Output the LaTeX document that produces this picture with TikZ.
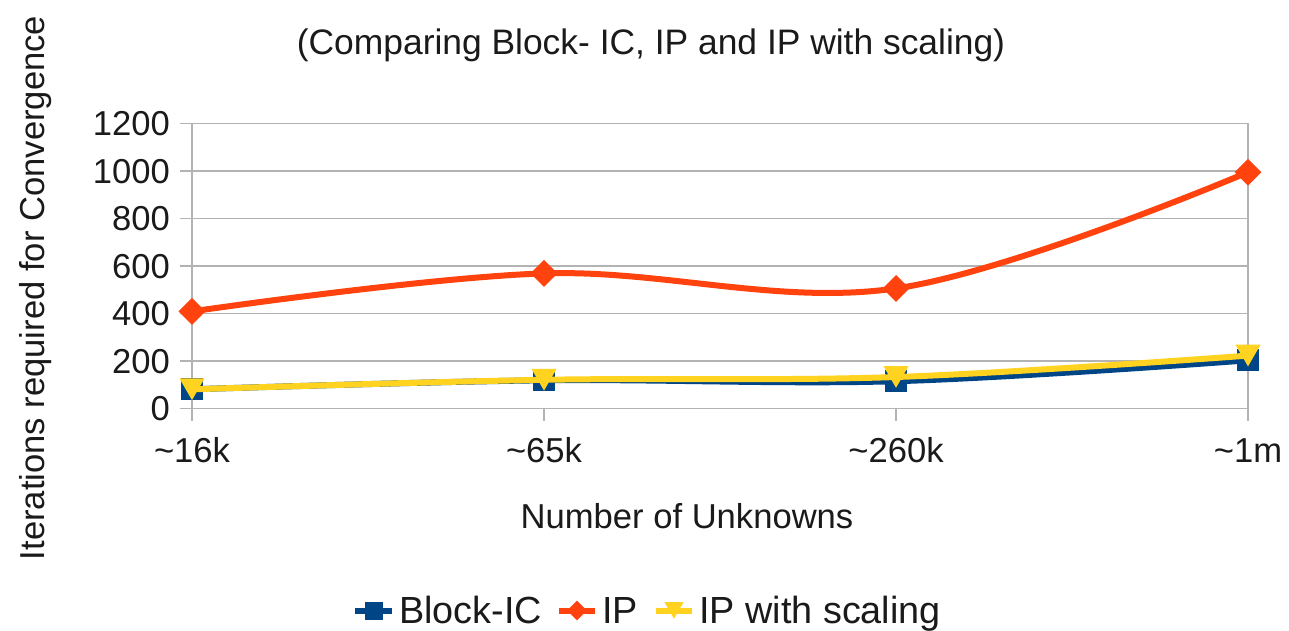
\documentclass[tikz,border=0pt]{standalone}
\usepackage{fontspec}
\setmainfont{Liberation Sans}
\usetikzlibrary{shapes.geometric}
\definecolor{cblue}{HTML}{004586}
\definecolor{corange}{HTML}{FF420E}
\definecolor{cyellow}{HTML}{FFD320}
\definecolor{cgrid}{HTML}{B3B3B3}
\definecolor{ctext}{HTML}{1A1A1A}
\tikzset{
  grid/.style={draw=cgrid, line width=1.5pt},
  series/.style={line width=6pt, line cap=round, line join=round},
  sqmark/.style={rectangle, fill=cblue, minimum size=22pt, inner sep=0pt},
  dimark/.style={diamond, fill=corange, minimum size=27pt, inner sep=0pt},
  trimark/.style={regular polygon, regular polygon sides=3, shape border rotate=180, fill=cyellow, minimum size=29pt, inner sep=0pt, yshift=3.7pt},
  sqleg/.style={rectangle, fill=cblue, minimum size=18pt, inner sep=0pt},
  dileg/.style={diamond, fill=corange, minimum size=20pt, inner sep=0pt},
  trileg/.style={regular polygon, regular polygon sides=3, shape border rotate=180, fill=cyellow, minimum size=22pt, inner sep=0pt, yshift=2.8pt},
  ticklab/.style={font=\fontsize{34.6}{40}\selectfont, text=ctext, inner sep=0pt},
  axtitle/.style={font=\fontsize{34.6}{40}\selectfont, text=ctext, inner sep=0pt},
  legtext/.style={font=\fontsize{37.8}{42}\selectfont, text=ctext, inner sep=0pt, anchor=base west}
}
\begin{document}
\begin{tikzpicture}[x=1pt,y=-1pt]
\useasboundingbox (0,0) rectangle (1289,630);
% grid
\foreach \v in {0,200,...,1200}{
  \draw[grid] (180,{408.3-\v*0.2375}) -- (1248,{408.3-\v*0.2375});
  \node[ticklab, anchor=base east] at (170,{408.3-\v*0.2375+12.4}) {\v};
}
\draw[grid] (192,123.3) -- (192,421);
\draw[grid] (1248,123.3) -- (1248,421);
\draw[grid] (544,408.3) -- (544,421);
\draw[grid] (896,408.3) -- (896,421);
% x tick labels
\node[ticklab, anchor=base] (x1) at (192,462) {\char`\~16k};
\node[ticklab, anchor=base] (x2) at (544,462) {\char`\~65k};
\node[ticklab, anchor=base] (x3) at (896,462) {\char`\~260k};
\node[ticklab, anchor=base] (x4) at (1248,462) {\char`\~1m};
% titles
\node[font=\fontsize{35.4}{40}\selectfont, text=ctext, inner sep=0pt, anchor=base] (title) at (651,54.5) {(Comparing Block- IC, IP and IP with scaling)};
\node[axtitle, anchor=base] (xtitle) at (687,528) {Number of Unknowns};
\node[axtitle, anchor=base, rotate=90] (ytitle) at (44,288) {Iterations required for Convergence};
% data coordinates
\coordinate (b1) at (192,389.3); \coordinate (b2) at (544,380.3); \coordinate (b3) at (896,381.2); \coordinate (b4) at (1248,360.3);
\coordinate (i1) at (192,311.4); \coordinate (i2) at (544,273.4); \coordinate (i3) at (896,288.4); \coordinate (i4) at (1248,172.2);
\coordinate (s1) at (192,389.3); \coordinate (s2) at (544,379.8); \coordinate (s3) at (896,377.0); \coordinate (s4) at (1248,355.6);
% Block-IC
\draw[series, cblue] plot[smooth, tension=0.6] coordinates {(b1) (b2) (b3) (b4)};
\foreach \n in {1,...,4}{ \node[sqmark] (mb\n) at (b\n) {}; }
% IP
\draw[series, corange] plot[smooth, tension=0.6] coordinates {(i1) (i2) (i3) (i4)};
\foreach \n in {1,...,4}{ \node[dimark] (mi\n) at (i\n) {}; }
% IP with scaling
\draw[series, cyellow] plot[smooth, tension=0.6] coordinates {(s1) (s2) (s3) (s4)};
\foreach \n in {1,...,4}{ \node[trimark] (ms\n) at (s\n) {}; }
% legend
\coordinate (lb0) at (355,610.5); \coordinate (lb1) at (392,610.5);
\draw[line width=6pt, cblue] (lb0) -- (lb1);
\node[sqleg] (lbm) at (374,610.5) {};
\node[legtext] (lbt) at (399,623) {Block-IC};
\coordinate (li0) at (559,610.5); \coordinate (li1) at (595,610.5);
\draw[line width=6pt, corange] (li0) -- (li1);
\node[dileg] (lim) at (577,610.5) {};
\node[legtext] (lit) at (602,623) {IP};
\coordinate (ls0) at (656,610.5); \coordinate (ls1) at (692,610.5);
\draw[line width=6pt, cyellow] (ls0) -- (ls1);
\node[trileg] (lsm) at (674,610.5) {};
\node[legtext] (lst) at (699,623) {IP with scaling};
\end{tikzpicture}
\end{document}
